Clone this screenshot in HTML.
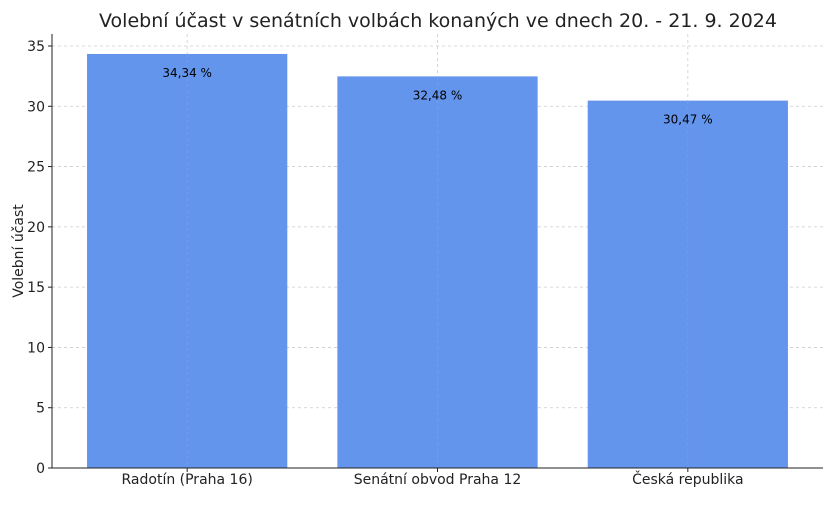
<!DOCTYPE html>
<html><head><meta charset="utf-8">
<style>
body{margin:0;background:#fff;font-family:"Liberation Sans","DejaVu Sans",sans-serif;}
svg text{font-family:"DejaVu Sans","Liberation Sans",sans-serif;}
</style></head>
<body>
<svg id="chart" width="835" height="500" xmlns="http://www.w3.org/2000/svg">
<text x="438" y="27" text-anchor="middle" font-size="19" fill="#222">Volební účast v senátních volbách konaných ve dnech 20. - 21. 9. 2024</text>
<text transform="translate(23,251) rotate(-90)" text-anchor="middle" font-size="14" fill="#222">Volební účast</text>
<g id="grid"></g>
<g id="bars"></g>
<g id="axes"></g>
</svg>
<script>
const categories=["Radotín (Praha 16)","Senátní obvod Praha 12","Česká republika"];
const values=[34.34,32.48,30.47];
const valueLabels=["34,34 %","32,48 %","30,47 %"];
const yTicks=[0,5,10,15,20,25,30,35];
const NS="http://www.w3.org/2000/svg";
const L=52,R=823,B=468,T=46;
const yMax=35;
const y=v=>B-(v/yMax)*(B-T);
const xmin=-0.54,xmax=categories.length-1+0.54;
const x=i=>L+(i-xmin)/(xmax-xmin)*(R-L);
const bw=0.8*(R-L)/(xmax-xmin);
function mk(tag,attrs,parent,text){const e=document.createElementNS(NS,tag);for(const k in attrs)e.setAttribute(k,attrs[k]);if(text!==undefined)e.textContent=text;parent.appendChild(e);return e;}
const grid=document.getElementById('grid'),bars=document.getElementById('bars'),axes=document.getElementById('axes');
yTicks.forEach(t=>{
  const g=mk('line',{x1:L,x2:R,y1:y(t),y2:y(t),stroke:'#ccc','stroke-width':0.8,'stroke-dasharray':'3,3'},grid);
  
  
  const tk=mk('line',{x1:L-4,x2:L,y1:y(t),y2:y(t),stroke:'#222'},axes);
  
  
  const lb=mk('text',{x:L-7,y:y(t)+5,'text-anchor':'end','font-size':14,fill:'#222'},axes,String(t));
  
  
});
categories.forEach((c,i)=>{
  const gx=mk('line',{x1:x(i),x2:x(i),y1:T-12,y2:B,stroke:'#ccc','stroke-width':0.8,'stroke-dasharray':'3,3'},grid);
  
  
  const r=mk('rect',{x:x(i)-bw/2,y:y(values[i]),width:bw,height:B-y(values[i]),fill:'#6495ED'},bars);
  
  
  const gl=mk('line',{x1:x(i),x2:x(i),y1:y(values[i]),y2:B,stroke:'#aac','stroke-width':0.6,'stroke-dasharray':'3,3','opacity':0.5},bars);
  
  
  const vl=mk('text',{x:x(i),y:y(values[i])+23,'text-anchor':'middle','font-size':12,fill:'#000'},bars,valueLabels[i]);
  
  
  const tk=mk('line',{x1:x(i),x2:x(i),y1:B,y2:B+4,stroke:'#222'},axes);
  
  
  const xl=mk('text',{x:x(i),y:B+16,'text-anchor':'middle','font-size':14,fill:'#222'},axes,c);
  
  
});
const la=mk('line',{x1:L,x2:L,y1:T-12,y2:B,stroke:'#222','stroke-width':1},axes);


const ba=mk('line',{x1:L,x2:R,y1:B,y2:B,stroke:'#222','stroke-width':1},axes);


</script>
</body></html>
